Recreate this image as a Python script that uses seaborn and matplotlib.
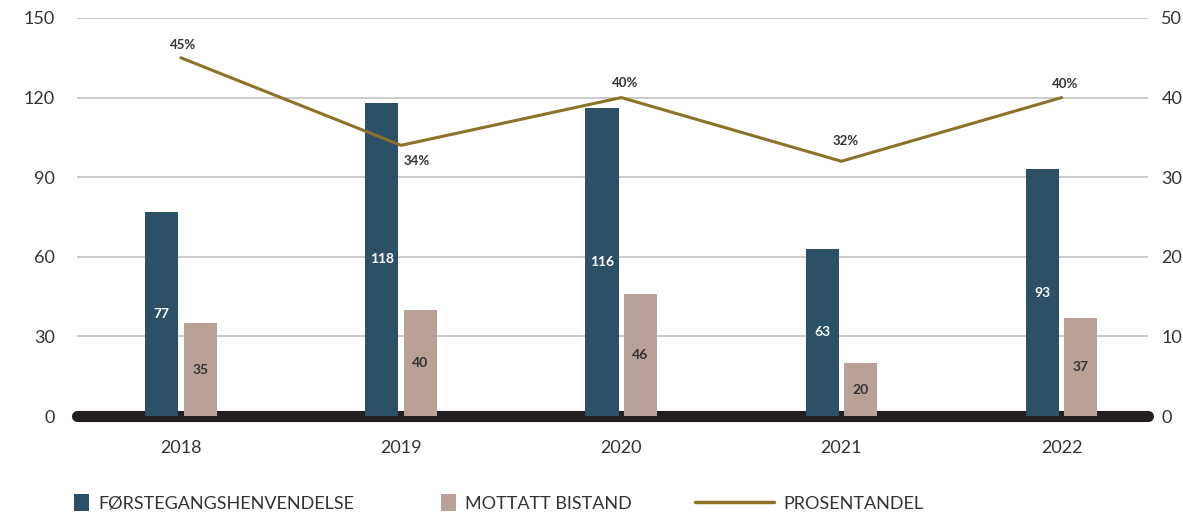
import matplotlib
matplotlib.use("Agg")
import matplotlib.pyplot as plt
import seaborn as sns
import pandas as pd
from matplotlib.patches import Patch
from matplotlib.lines import Line2D

years = ["2018", "2019", "2020", "2021", "2022"]
forstegang = [77, 118, 116, 63, 93]
mottatt = [35, 40, 46, 20, 37]
prosent = [45, 34, 40, 32, 40]
series_names = ["FØRSTEGANGSHENVENDELSE", "MOTTATT BISTAND", "PROSENTANDEL"]
left_ticks = [0, 30, 60, 90, 120, 150]
right_ticks = [0, 10, 20, 30, 40, 50]

C_DARK = "#2b5068"
C_LIGHT = "#b9a197"
C_LINE = "#8c7229"
C_TEXT = "#333333"

sns.set_theme(style="white")
plt.rcParams["font.family"] = ["Lato", "DejaVu Sans"]

df = pd.DataFrame({
    "year": years * 2,
    "value": forstegang + mottatt,
    "series": [series_names[0]] * 5 + [series_names[1]] * 5,
})

fig = plt.figure(figsize=(11.83, 5.13), dpi=100)
ax = fig.add_axes([0.065, 0.189, 0.905, 0.776])

sns.barplot(data=df, x="year", y="value", hue="series", ax=ax,
            palette=[C_DARK, C_LIGHT], width=0.35, gap=0.14,
            saturation=1, legend=False, zorder=3, linewidth=0,
            edgecolor="none")

ax.set_ylim(0, 150)
ax.set_yticks(left_ticks)
ax.set_xlim(-0.472, 4.39)
ax.grid(axis="y", color="#bdbdbd", lw=1.1, zorder=0)
ax.grid(axis="x", visible=False)
for s in ax.spines.values():
    s.set_visible(False)
ax.axhline(0, color="#231f20", lw=8, solid_capstyle="round", zorder=2,
           clip_on=False)
ax.set_xlabel("")
ax.set_ylabel("")
ax.tick_params(axis="both", length=0, labelsize=13, labelcolor=C_TEXT)
ax.tick_params(axis="x", pad=17)
ax.tick_params(axis="y", pad=16)

# bar labels
conts = ax.containers
ax.bar_label(conts[0], labels=[str(v) for v in forstegang], label_type="center",
             color="white", fontsize=10, fontweight="bold", zorder=5)
ax.bar_label(conts[1], labels=[str(v) for v in mottatt], label_type="center",
             color=C_TEXT, fontsize=10, fontweight="bold", zorder=5)

ax2 = ax.twinx()
sns.lineplot(x=list(range(len(years))), y=prosent, ax=ax2, color=C_LINE,
             lw=2.2, zorder=4)
ax2.set_ylim(0, 50)
ax2.set_yticks(right_ticks)
ax2.set_xlim(-0.472, 4.39)
for s in ax2.spines.values():
    s.set_visible(False)
ax2.tick_params(axis="y", length=0, labelsize=13, labelcolor=C_TEXT, pad=10)
ax2.grid(False)

offsets = [(2, 13), (16, -16), (4, 15), (4, 20), (3, 14)]
for i, (p, off) in enumerate(zip(prosent, offsets)):
    ax2.annotate(f"{p}%", (i, p), xytext=off, textcoords="offset pixels",
                 ha="center", va="center", fontsize=9.5, fontweight="bold",
                 color=C_TEXT)

leg_font = ["Lato", "DejaVu Sans"]
h1 = Patch(facecolor=C_DARK, edgecolor="none")
h2 = Patch(facecolor=C_LIGHT, edgecolor="none")
h3 = Line2D([0], [0], color=C_LINE, lw=2.5)
for h, name, x, hl in [(h1, series_names[0], 74 / 1183, 0.85),
                       (h2, series_names[1], 441 / 1183, 0.85),
                       (h3, series_names[2], 695 / 1183, 4.4)]:
    fig.legend(handles=[h], labels=[name], loc="center left",
               bbox_to_anchor=(x, 1 - 503 / 513), frameon=False,
               handlelength=hl, handleheight=1.0, handletextpad=0.5,
               borderpad=0, borderaxespad=0,
               prop={"family": leg_font, "size": 13},
               labelcolor=C_TEXT)

fig.savefig("out.png", dpi=100)
